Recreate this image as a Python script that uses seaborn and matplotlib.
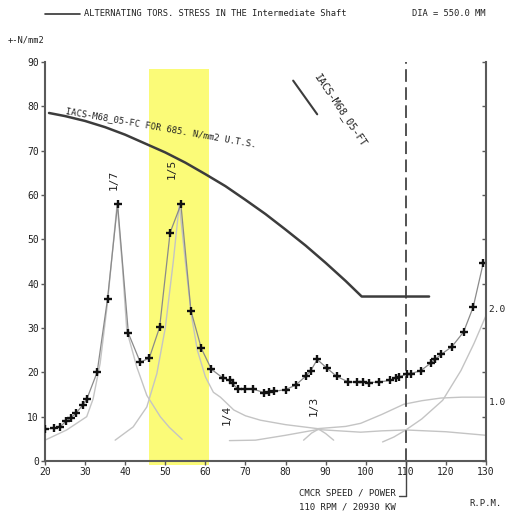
import numpy as np
import pandas as pd
import matplotlib
matplotlib.use("Agg")
import matplotlib.pyplot as plt
import seaborn as sns

# ---------------- data ----------------
rpm = [20, 22.25, 23.75, 25.25, 26.4, 27.75, 29.4, 30.4, 33, 35.6, 38.1, 40.8,
       43.75, 46, 48.6, 51.2, 53.9, 56.4, 59, 61.5, 64.4, 66.25, 66.8, 68.1,
       69.9, 72, 74.7, 75.8, 77.1, 80, 82.5, 85, 86.25, 87.9, 90.25, 92.75,
       95.7, 97.9, 99.2, 100.8, 103.3, 106.1, 107.5, 108.3, 110.4, 111.25,
       113.75, 116.25, 117.25, 118.9, 121.5, 124.4, 126.8, 129.3]
stress = [7.2, 7.4, 7.7, 9.0, 9.7, 10.8, 12.6, 13.9, 20.0, 36.6, 58.0, 28.8,
          22.3, 23.2, 30.2, 51.5, 57.9, 33.9, 25.4, 20.7, 18.7, 18.2, 17.5, 16.2,
          16.2, 16.2, 15.4, 15.6, 15.7, 16.1, 17.1, 19.1, 20.3, 22.9, 21.0, 19.1,
          17.8, 17.8, 17.8, 17.7, 17.8, 18.2, 18.7, 19.0, 19.6, 19.7,
          20.4, 22.1, 22.9, 24.1, 25.8, 29.1, 34.7, 44.6]

# order response curves (thin grey)
ord7_rpm = [20, 25.4, 30.4, 32, 33.75, 35.5, 36.8, 38, 39.3, 40.4, 42.9, 45.4, 48.75, 51, 54.2]
ord7_val = [4.7, 7.0, 10.0, 14.0, 22.0, 35.0, 47.0, 58.0, 44.0, 29.4, 21.2, 14.8, 10.0, 7.6, 4.9]
ord5_rpm = [37.5, 42, 45.4, 47.9, 50, 52, 53.5, 55, 56.5, 58, 60, 62, 63.75, 67.1, 70,
            73.75, 80, 88, 95, 98.75, 104, 109.5, 114, 118.75, 124, 130]
ord5_val = [4.7, 7.7, 12.2, 19.7, 30.0, 45.0, 58.0, 45.0, 33.0, 25.0, 19.0, 15.5, 14.4, 11.5, 10.2,
            9.2, 8.2, 7.3, 7.8, 8.5, 10.5, 12.8, 13.6, 14.2, 14.4, 14.4]
ord4_rpm = [66, 72.5, 80, 88, 98.75, 104, 110, 120, 130]
ord4_val = [4.6, 4.7, 5.8, 7.1, 6.5, 6.8, 7.0, 6.6, 5.8]
ord3_rpm = [84.5, 86.5, 88.25, 90, 92]
ord3_val = [4.7, 6.3, 7.2, 6.2, 4.7]
ord2_rpm = [104.2, 107, 110, 114, 119.2, 123.75, 127, 130]
ord2_val = [4.3, 5.4, 7.0, 9.5, 13.7, 20.4, 26.5, 32.8]

# IACS limits
fc_rpm = [21, 25, 30, 35, 40, 45, 50, 55, 60, 65, 70, 75, 80, 85, 90, 95, 99, 115.8]
fc_val = [78.5, 77.8, 76.7, 75.3, 73.6, 71.6, 69.6, 67.3, 64.7, 62.0, 58.9, 55.7,
          52.2, 48.6, 44.7, 40.6, 37.1, 37.1]
ft_rpm = [81.9, 87.9]
ft_val = [85.8, 78.2]

band = [46, 61]          # barred speed range (rpm)
band_top = 88.5
cmcr_rpm = 110

xticks = list(range(20, 131, 10))
yticks = list(range(0, 91, 10))
right_labels = ["2.0", "1.0"]
right_label_pos = [34.2, 13.3]

# ---------------- style ----------------
sns.set_theme(style="white")
FONT = ["DejaVu Sans Mono"]
plt.rcParams["font.family"] = FONT
FS = 6.4
FSO = 8.0

W, H = 507, 520
fig = plt.figure(figsize=(W / 100, H / 100), dpi=100)
ax = fig.add_axes([45 / W, 1 - 461 / H, (486 - 45) / W, (461 - 62) / H])

SPINE = "#5a5a5a"
GREY = "#c4c4c4"
DARK = "#3c3c3c"
TXT = "#222222"

# yellow band
ax.axvspan(band[0], band[1], ymin=-0.01, ymax=band_top / 90, color="#fbfb78", lw=0,
           zorder=0, clip_on=False)

def line(xs, ys, color, lw, z, ls="-"):
    df = pd.DataFrame({"x": xs, "y": ys})
    sns.lineplot(data=df, x="x", y="y", ax=ax, color=color, lw=lw, estimator=None,
                 sort=False, zorder=z, linestyle=ls)

for xs, ys in [(ord7_rpm, ord7_val), (ord5_rpm, ord5_val), (ord4_rpm, ord4_val),
               (ord3_rpm, ord3_val), (ord2_rpm, ord2_val)]:
    line(xs, ys, GREY, 1.0, 1)

line(fc_rpm, fc_val, DARK, 1.8, 3)
line(ft_rpm, ft_val, DARK, 1.5, 3)

# main response
line(rpm, stress, "#8a8a8a", 0.9, 4)
sns.scatterplot(x=rpm, y=stress, ax=ax, marker="+", s=36, color="#111111",
                linewidth=1.7, zorder=5)

# CMCR line
ax.axvline(cmcr_rpm, color="#444444", lw=1.3, ls=(0, (7, 3)), zorder=2)
ax.plot([cmcr_rpm, cmcr_rpm], [0, -8], color="#444444", lw=1.0, clip_on=False)
ax.plot([cmcr_rpm - 1.6, cmcr_rpm], [-8, -8], color="#444444", lw=1.0, clip_on=False)

ax.set_xlim(20, 130)
ax.set_ylim(0, 90)
ax.set_xticks(xticks)
ax.set_yticks(yticks)
ax.set_xlabel("")
ax.set_ylabel("")
for s in ["left", "bottom", "right"]:
    ax.spines[s].set_color(SPINE)
    ax.spines[s].set_linewidth(1.5)
ax.spines["top"].set_visible(False)
ax.tick_params(axis="both", direction="out", length=3, width=1, color=SPINE,
               labelsize=7, pad=1.5, labelcolor=TXT)
ax.tick_params(axis="y", left=True)
ax.tick_params(axis="x", bottom=True)

ax2 = ax.twinx()
ax2.set_ylim(0, 90)
ax2.set_yticks(yticks)
ax2.set_yticklabels([])
for s in ["top", "left", "bottom"]:
    ax2.spines[s].set_visible(False)
ax2.spines["right"].set_color(SPINE)
ax2.spines["right"].set_linewidth(1.3)
ax2.tick_params(axis="y", direction="in", length=3, width=1, color=SPINE)
ax2.grid(False)
ax.grid(False)
for lab, pos in zip(right_labels, right_label_pos):
    ax2.text(1.006, pos, lab, transform=ax2.get_yaxis_transform(), ha="left", va="center",
             fontsize=6.8, color=TXT)

# annotations
ax.text(37.1, 63.5, "1/7", rotation=90, ha="center", va="center", fontsize=FSO, color=TXT, zorder=6)
ax.text(51.7, 66.0, "1/5", rotation=90, ha="center", va="center", fontsize=FSO, color=TXT, zorder=6)
ax.text(65.3, 10.5, "1/4", rotation=90, ha="center", va="center", fontsize=FSO, color=TXT, zorder=6)
ax.text(87.0, 12.5, "1/3", rotation=90, ha="center", va="center", fontsize=FSO, color=TXT, zorder=6)
ax.text(25.0, 78.0, "IACS-M68_05-FC FOR 685. N/mm2 U.T.S.", rotation=-10, ha="left",
        va="bottom", fontsize=FS, color=TXT, rotation_mode="anchor", zorder=6)
ax.text(86.6, 86.4, "IACS-M68_05-FT", rotation=-56, ha="left", va="bottom",
        fontsize=7.4, color=TXT, rotation_mode="anchor", zorder=6)

# figure texts
fig.add_artist(plt.Line2D([45 / W, 80 / W], [1 - 14 / H] * 2, color="#333333", lw=1.2))
fig.text(84 / W, 1 - 14 / H, "ALTERNATING TORS. STRESS IN THE Intermediate Shaft",
         ha="left", va="center", fontsize=6.3, color=TXT)
fig.text(486 / W, 1 - 14 / H, "DIA = 550.0 MM", ha="right", va="center", fontsize=6.3, color=TXT)
fig.text(8 / W, 1 - 40 / H, "+-N/mm2", ha="left", va="center", fontsize=6.3, color=TXT)
fig.text(299 / W, 1 - 493 / H, "CMCR SPEED / POWER", ha="left", va="center", fontsize=6.5, color=TXT)
fig.text(299 / W, 1 - 507 / H, "110 RPM / 20930 KW", ha="left", va="center", fontsize=6.5, color=TXT)
fig.text(486 / W, 1 - 504 / H, "R.P.M.", ha="center", va="center", fontsize=6.5, color=TXT)

fig.savefig("out.png", dpi=100, facecolor="white")
